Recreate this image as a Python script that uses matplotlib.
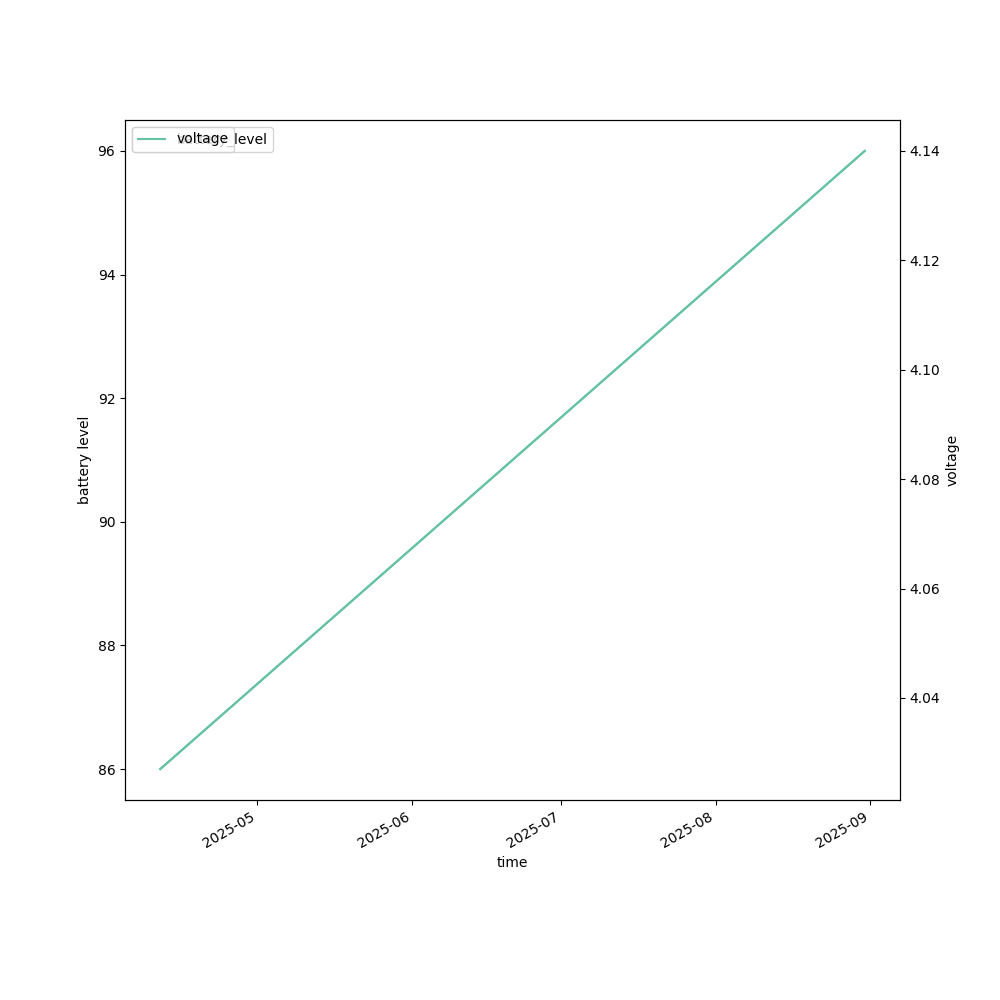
import matplotlib
matplotlib.use("Agg")
import matplotlib.pyplot as plt
import pandas as pd

times = pd.to_datetime(["2025-04-11 12:00", "2025-08-30 22:00"])
battery_level = [86, 96]
voltage = [4.027, 4.14]

colors = plt.get_cmap("Set2").colors

fig, ax = plt.subplots(figsize=(10, 10), dpi=100)
ax.plot(times, battery_level, color=colors[0], label="battery_level")
ax.set_xlabel("time")
ax.set_ylabel("battery level")
ax.legend(loc="upper left")

ax2 = ax.twinx()
ax2.plot(times, voltage, color=colors[0], label="voltage")
ax2.set_ylabel("voltage")
ax2.legend(loc="upper left")

fig.autofmt_xdate()
fig.savefig("out.png", dpi=100)
